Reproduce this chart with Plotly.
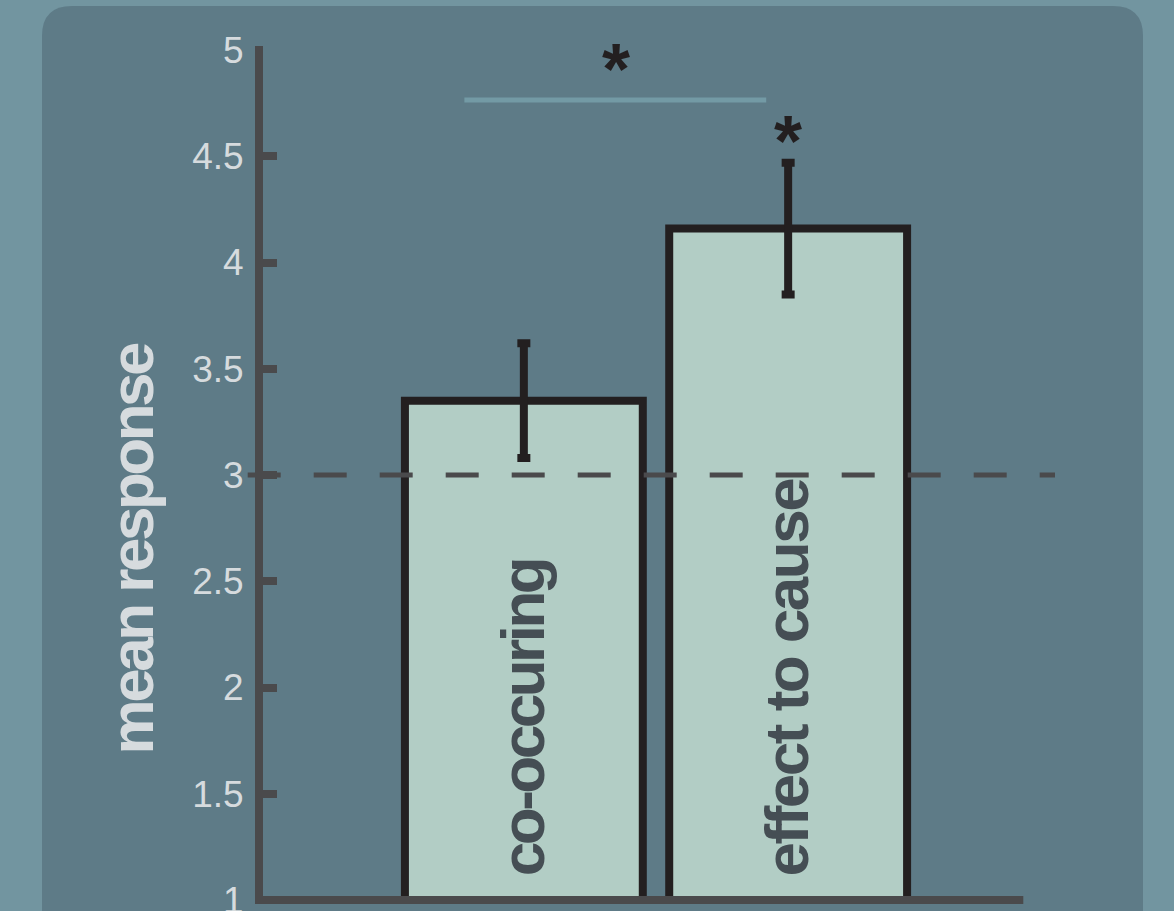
import plotly.graph_objects as go

# ---- data ----
categories = ["co-occuring", "effect to cause"]
means = [3.35, 4.16]
sems = [0.27, 0.31]
chance_level = 3
y_ticks = [1, 1.5, 2, 2.5, 3, 3.5, 4, 4.5, 5]
y_tick_text = ["1", "1.5", "2", "2.5", "3", "3.5", "4", "4.5", "5"]
comparison_pair = [-0.225, 0.917]   # bracket span between the two conditions
comparison_level = 4.765
star_marks = [(0.35, 4.955), (1.0, 4.616)]

# ---- canvas geometry (px) ----
W, H = 1174, 911
TOP, BOTTOM = 50, 900.5
X_UNIT = 264.3           # px between category centres
X_ORIGIN = 523.85        # px position of the first category

x_lo = -X_ORIGIN / X_UNIT
x_hi = x_lo + W / X_UNIT


def px_to_paper_x(px):
    return px / W


def px_to_paper_y(py):
    return (BOTTOM - py) / (BOTTOM - TOP)


BG = "#7295A0"
PANEL = "#5E7B87"
AXIS = "#4A4A4C"
BAR_FILL = "#B2CDC5"
BAR_EDGE = "#231F20"
LIGHT_TEXT = "#D6DBDE"
DARK_TEXT = "#454E54"
SANS = "Liberation Sans, Arial, Helvetica, sans-serif"
LABEL_SIZE = 62
LABEL_TRACKING = {"co-occuring": -3.5, "effect to cause": -2.5, "mean response": -3.5}


def tight(text):
    """Bold label with tightened tracking."""
    return (f'<span style="letter-spacing:{LABEL_TRACKING[text]}px">'
            f'<b>{text}</b></span>')


fig = go.Figure()

fig.add_trace(go.Bar(
    x=[0, 1],
    y=means,
    width=0.9,
    marker=dict(color=BAR_FILL, line=dict(color=BAR_EDGE, width=8)),
    error_y=dict(type="data", array=sems, visible=True,
                 color=BAR_EDGE, thickness=8, width=6.5),
    hoverinfo="skip",
    showlegend=False,
))

# rounded background panel
x0p, x1p = px_to_paper_x(42), px_to_paper_x(1143)
y0p, y1p = px_to_paper_y(940), px_to_paper_y(6)
rx, ry = 30 / W, 30 / (BOTTOM - TOP)
panel_path = (
    f"M {x0p},{y0p} L {x0p},{y1p - ry} "
    f"Q {x0p},{y1p} {x0p + rx},{y1p} "
    f"L {x1p - rx},{y1p} Q {x1p},{y1p} {x1p},{y1p - ry} "
    f"L {x1p},{y0p} Z"
)

shapes = [
    dict(type="path", path=panel_path, xref="paper", yref="paper",
         fillcolor=PANEL, line=dict(width=0), layer="below"),
    # horizontal axis baseline
    dict(type="line", xref="x", yref="paper",
         x0=(255 - X_ORIGIN) / X_UNIT, x1=(1023.3 - X_ORIGIN) / X_UNIT,
         y0=0, y1=0, line=dict(color=AXIS, width=8), layer="above"),
    # top cap of the vertical axis
    dict(type="line", xref="paper", yref="paper",
         x0=px_to_paper_x(259), x1=px_to_paper_x(259),
         y0=1, y1=px_to_paper_y(46), line=dict(color=AXIS, width=8), layer="above"),
    # chance level
    dict(type="line", xref="x", yref="y",
         x0=(247.7 - X_ORIGIN) / X_UNIT, x1=(1055 - X_ORIGIN) / X_UNIT,
         y0=chance_level, y1=chance_level,
         line=dict(color=AXIS, width=5, dash="33px,33px"), layer="above"),
    # comparison bracket
    dict(type="line", xref="x", yref="y",
         x0=comparison_pair[0], x1=comparison_pair[1],
         y0=comparison_level, y1=comparison_level,
         line=dict(color="#739AA5", width=5), layer="above"),
]

annotations = [
    dict(text=tight("mean response"), textangle=-90, showarrow=False,
         xref="paper", yref="y", x=px_to_paper_x(131), y=2.65,
         xanchor="center", yanchor="middle",
         font=dict(family=SANS, size=LABEL_SIZE, color=LIGHT_TEXT)),
]
for i, name in enumerate(categories):
    annotations.append(dict(
        text=tight(name), textangle=-90, showarrow=False,
        xref="x", yref="y", x=i, y=1.102,
        xanchor="center", yanchor="bottom", xshift=-2,
        font=dict(family=SANS, size=LABEL_SIZE, color=DARK_TEXT)))
for sx, sy in star_marks:
    annotations.append(dict(
        text="<b>*</b>", showarrow=False, xref="x", yref="y",
        x=sx, y=sy, xanchor="center", yanchor="middle", yshift=-9,
        font=dict(family=SANS, size=72, color=BAR_EDGE)))

fig.update_layout(
    width=W, height=H,
    margin=dict(l=0, r=0, t=TOP, b=H - BOTTOM, pad=0, autoexpand=False),
    paper_bgcolor=BG,
    plot_bgcolor="rgba(0,0,0,0)",
    shapes=shapes,
    annotations=annotations,
    bargap=0.1,
    xaxis=dict(range=[x_lo, x_hi], visible=False, fixedrange=True,
               automargin=False),
    yaxis=dict(
        range=[1, 5], anchor="free", position=px_to_paper_x(259),
        automargin=False,
        showline=True, linecolor=AXIS, linewidth=8,
        ticks="inside", ticklen=14, tickwidth=8, tickcolor=AXIS,
        tickvals=y_ticks, ticktext=y_tick_text,
        ticklabeloverflow="allow", ticklabelstandoff=4,
        tickfont=dict(family=SANS, size=37, color=LIGHT_TEXT),
        showgrid=False, zeroline=False, fixedrange=True,
    ),
)

fig.write_html("out.html")
